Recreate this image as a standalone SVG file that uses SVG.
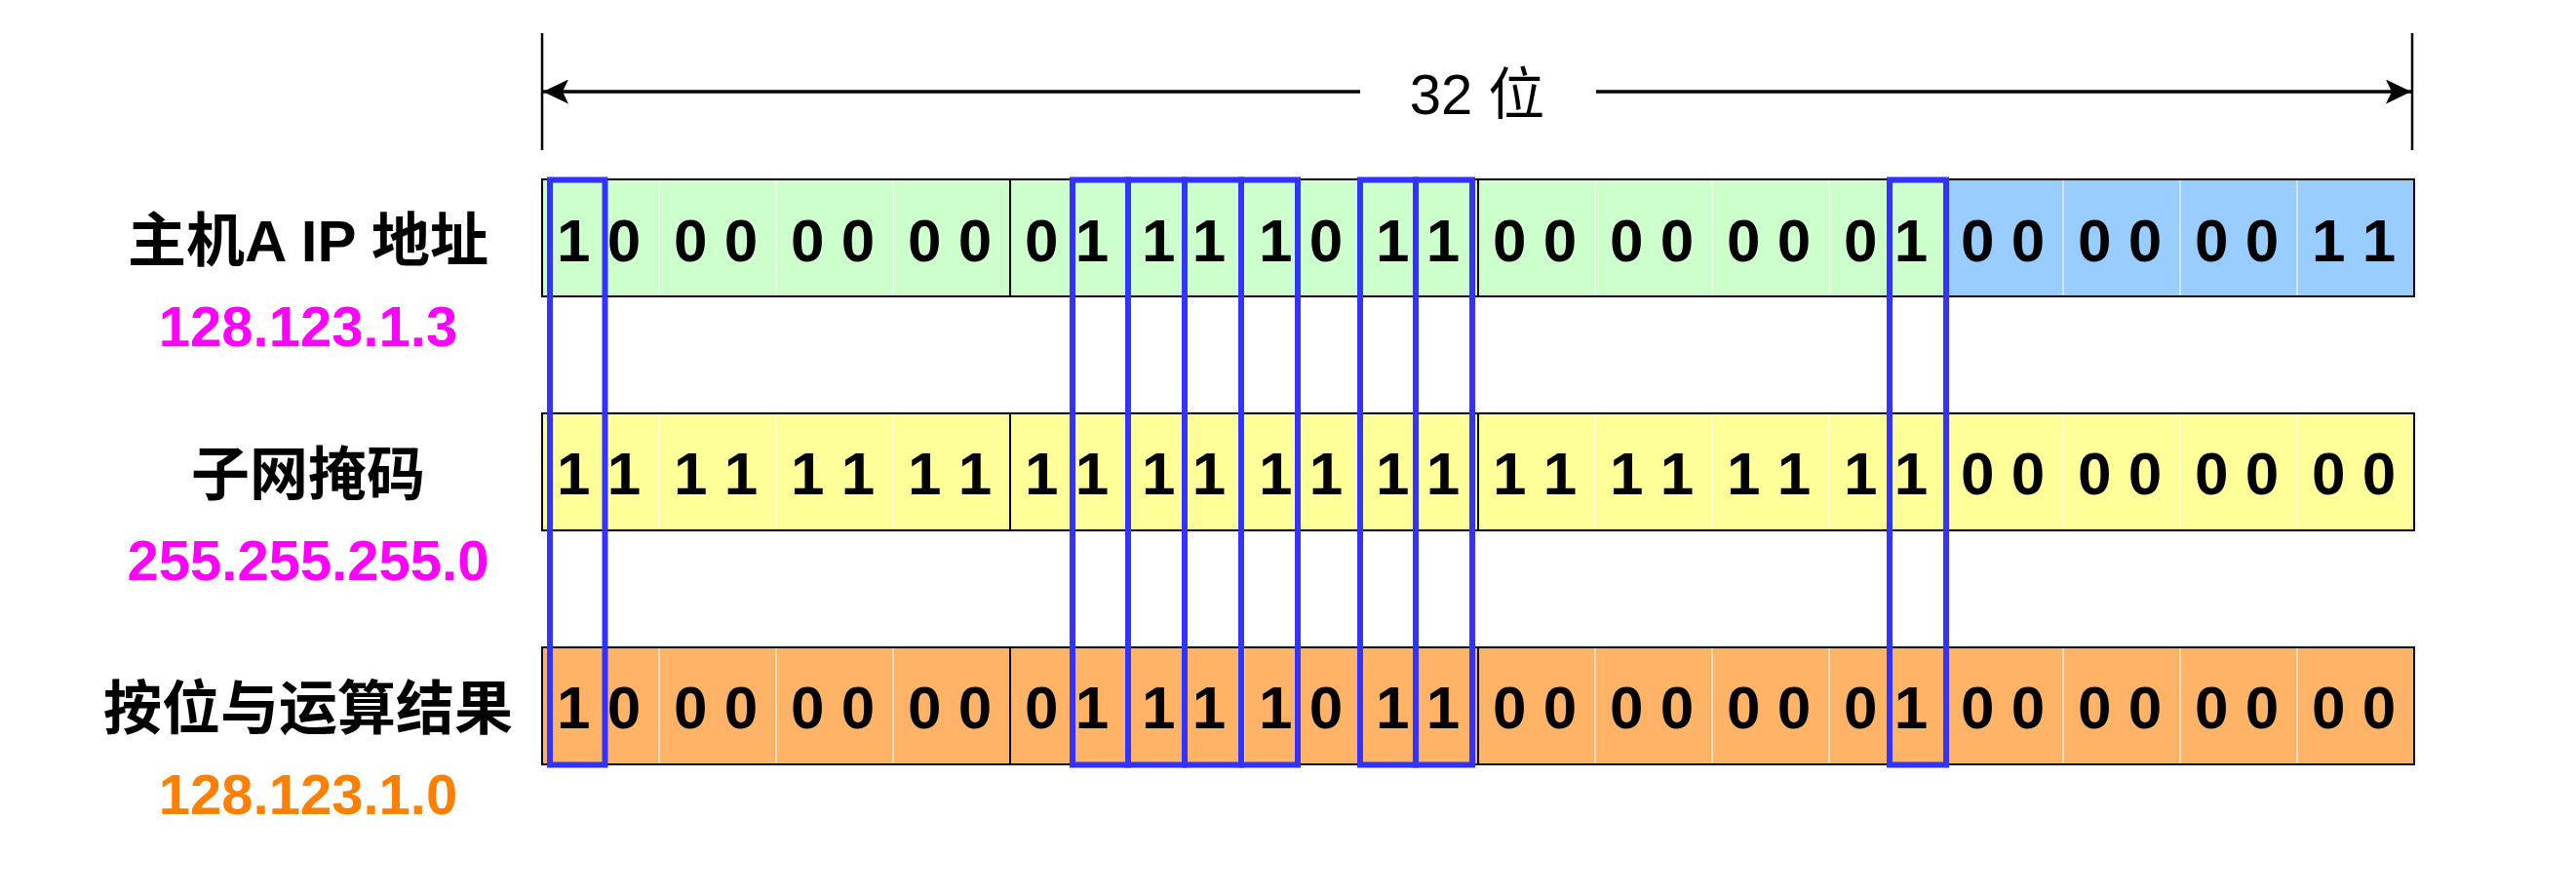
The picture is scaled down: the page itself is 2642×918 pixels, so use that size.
<svg xmlns="http://www.w3.org/2000/svg" width="2642" height="918" viewBox="0 0 2642 918">
<defs>
<style>
.lbl{font-family:"Liberation Sans","Noto Sans CJK SC",sans-serif;font-weight:bold;font-size:60px;text-anchor:middle;fill:#000}
.ip{font-family:"Liberation Sans",sans-serif;font-weight:bold;font-size:58px;text-anchor:middle}
.bit{font-family:"Liberation Sans",sans-serif;font-weight:bold;font-size:62px;fill:#000}
.top{font-family:"Liberation Sans","Noto Sans CJK SC",sans-serif;font-size:58px;text-anchor:middle;fill:#000}
.row{stroke:#000;stroke-width:2}
.byte{stroke:#000;stroke-width:2}
.pair{stroke:#ffffff;stroke-opacity:0.7;stroke-width:1.5}
.hl{fill:none;stroke:#3333FF;stroke-width:6}
</style>
<marker id="ah" viewBox="0 0 26 25" refX="26" refY="12.5" markerWidth="26" markerHeight="25" markerUnits="userSpaceOnUse" orient="auto">
<path d="M26,12.5 L0,0 L6,12.5 L0,25 Z" fill="#000"/>
</marker>
</defs>
<rect width="2642" height="918" fill="#fff"/>

<g id="dimension">
<line x1="556" y1="34" x2="556" y2="154" stroke="#000" stroke-width="2.5"/>
<line x1="2474" y1="34" x2="2474" y2="154" stroke="#000" stroke-width="2.5"/>
<line x1="1395" y1="94" x2="557" y2="94" stroke="#000" stroke-width="3.5" marker-end="url(#ah)"/>
<line x1="1637" y1="94" x2="2473" y2="94" stroke="#000" stroke-width="3.5" marker-end="url(#ah)"/>
<text class="top" x="1515" y="117">32 位</text>
</g>

<g id="labels">
<text class="lbl" x="316" y="268">主机A IP 地址</text>
<text class="ip" x="316" y="355" fill="#FF00FF">128.123.1.3</text>
<text class="lbl" x="316" y="508">子网掩码</text>
<text class="ip" x="316" y="595" fill="#FF00FF">255.255.255.0</text>
<text class="lbl" x="316" y="748">按位与运算结果</text>
<text class="ip" x="316" y="835" fill="#FF8000">128.123.1.0</text>
</g>

<g id="row-ip">
<rect x="556" y="184" width="1440" height="120" fill="#CCFFCC"/>
<rect x="1996" y="184" width="480" height="120" fill="#99CCFF"/>
<g class="pair">
<line x1="676" y1="184" x2="676" y2="304"/><line x1="796" y1="184" x2="796" y2="304"/><line x1="916" y1="184" x2="916" y2="304"/>
<line x1="1156" y1="184" x2="1156" y2="304"/><line x1="1276" y1="184" x2="1276" y2="304"/><line x1="1396" y1="184" x2="1396" y2="304"/>
<line x1="1636" y1="184" x2="1636" y2="304"/><line x1="1756" y1="184" x2="1756" y2="304"/><line x1="1876" y1="184" x2="1876" y2="304"/>
<line x1="2116" y1="184" x2="2116" y2="304"/><line x1="2236" y1="184" x2="2236" y2="304"/><line x1="2356" y1="184" x2="2356" y2="304"/>
</g>
<g class="byte">
<line x1="1036" y1="184" x2="1036" y2="304"/><line x1="1516" y1="184" x2="1516" y2="304"/><line x1="1996" y1="184" x2="1996" y2="304"/>
</g>
<rect class="row" x="556" y="184" width="1920" height="120" fill="none"/>
<g class="bit">
<text x="571" y="268">1 0</text><text x="691" y="268">0 0</text><text x="811" y="268">0 0</text><text x="931" y="268">0 0</text>
<text x="1051" y="268">0 1</text><text x="1171" y="268">1 1</text><text x="1291" y="268">1 0</text><text x="1411" y="268">1 1</text>
<text x="1531" y="268">0 0</text><text x="1651" y="268">0 0</text><text x="1771" y="268">0 0</text><text x="1891" y="268">0 1</text>
<text x="2011" y="268">0 0</text><text x="2131" y="268">0 0</text><text x="2251" y="268">0 0</text><text x="2371" y="268">1 1</text>
</g>
</g>

<g id="row-mask">
<rect x="556" y="424" width="1920" height="120" fill="#FFFF99"/>
<g class="pair">
<line x1="676" y1="424" x2="676" y2="544"/><line x1="796" y1="424" x2="796" y2="544"/><line x1="916" y1="424" x2="916" y2="544"/>
<line x1="1156" y1="424" x2="1156" y2="544"/><line x1="1276" y1="424" x2="1276" y2="544"/><line x1="1396" y1="424" x2="1396" y2="544"/>
<line x1="1636" y1="424" x2="1636" y2="544"/><line x1="1756" y1="424" x2="1756" y2="544"/><line x1="1876" y1="424" x2="1876" y2="544"/>
<line x1="2116" y1="424" x2="2116" y2="544"/><line x1="2236" y1="424" x2="2236" y2="544"/><line x1="2356" y1="424" x2="2356" y2="544"/>
</g>
<g class="byte">
<line x1="1036" y1="424" x2="1036" y2="544"/><line x1="1516" y1="424" x2="1516" y2="544"/><line x1="1996" y1="424" x2="1996" y2="544"/>
</g>
<rect class="row" x="556" y="424" width="1920" height="120" fill="none"/>
<g class="bit">
<text x="571" y="507">1 1</text><text x="691" y="507">1 1</text><text x="811" y="507">1 1</text><text x="931" y="507">1 1</text>
<text x="1051" y="507">1 1</text><text x="1171" y="507">1 1</text><text x="1291" y="507">1 1</text><text x="1411" y="507">1 1</text>
<text x="1531" y="507">1 1</text><text x="1651" y="507">1 1</text><text x="1771" y="507">1 1</text><text x="1891" y="507">1 1</text>
<text x="2011" y="507">0 0</text><text x="2131" y="507">0 0</text><text x="2251" y="507">0 0</text><text x="2371" y="507">0 0</text>
</g>
</g>

<g id="row-result">
<rect x="556" y="664" width="1920" height="120" fill="#FFB366"/>
<g class="pair">
<line x1="676" y1="664" x2="676" y2="784"/><line x1="796" y1="664" x2="796" y2="784"/><line x1="916" y1="664" x2="916" y2="784"/>
<line x1="1156" y1="664" x2="1156" y2="784"/><line x1="1276" y1="664" x2="1276" y2="784"/><line x1="1396" y1="664" x2="1396" y2="784"/>
<line x1="1636" y1="664" x2="1636" y2="784"/><line x1="1756" y1="664" x2="1756" y2="784"/><line x1="1876" y1="664" x2="1876" y2="784"/>
<line x1="2116" y1="664" x2="2116" y2="784"/><line x1="2236" y1="664" x2="2236" y2="784"/><line x1="2356" y1="664" x2="2356" y2="784"/>
</g>
<g class="byte">
<line x1="1036" y1="664" x2="1036" y2="784"/><line x1="1516" y1="664" x2="1516" y2="784"/><line x1="1996" y1="664" x2="1996" y2="784"/>
</g>
<rect class="row" x="556" y="664" width="1920" height="120" fill="none"/>
<g class="bit">
<text x="571" y="747">1 0</text><text x="691" y="747">0 0</text><text x="811" y="747">0 0</text><text x="931" y="747">0 0</text>
<text x="1051" y="747">0 1</text><text x="1171" y="747">1 1</text><text x="1291" y="747">1 0</text><text x="1411" y="747">1 1</text>
<text x="1531" y="747">0 0</text><text x="1651" y="747">0 0</text><text x="1771" y="747">0 0</text><text x="1891" y="747">0 1</text>
<text x="2011" y="747">0 0</text><text x="2131" y="747">0 0</text><text x="2251" y="747">0 0</text><text x="2371" y="747">0 0</text>
</g>
</g>

<g id="highlights">
<rect class="hl" x="564" y="184.5" width="56.5" height="600"/>
<rect class="hl" x="1100" y="184.5" width="57" height="600"/>
<rect class="hl" x="1157" y="184.5" width="58" height="600"/>
<rect class="hl" x="1215" y="184.5" width="58" height="600"/>
<rect class="hl" x="1273" y="184.5" width="58" height="600"/>
<rect class="hl" x="1395" y="184.5" width="57" height="600"/>
<rect class="hl" x="1452" y="184.5" width="58" height="600"/>
<rect class="hl" x="1938" y="184.5" width="58" height="600"/>
</g>
</svg>
